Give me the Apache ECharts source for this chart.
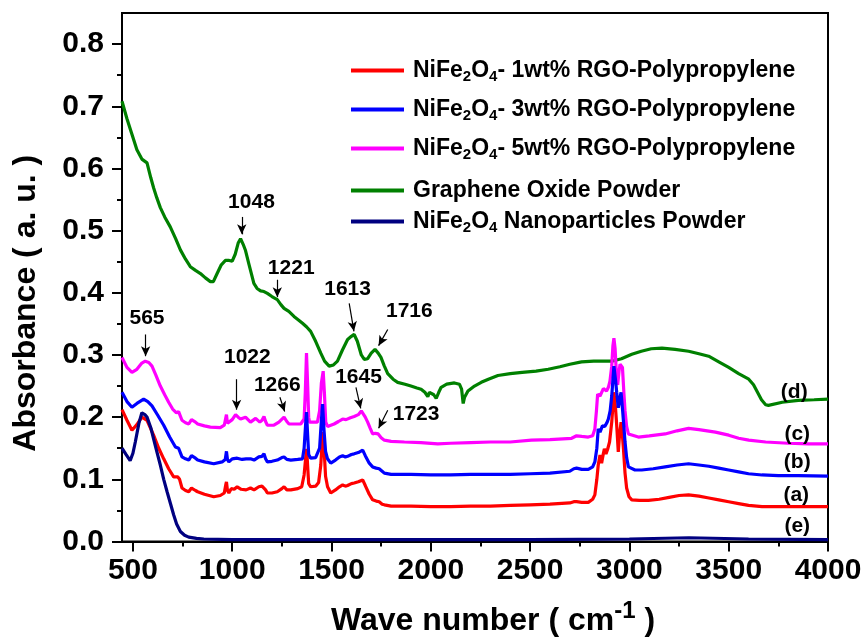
<!DOCTYPE html>
<html>
<head>
<meta charset="utf-8">
<script src="https://cdn.jsdelivr.net/npm/echarts@6/dist/echarts.min.js"></script>
<style>
  html, body { margin: 0; padding: 0; background: #fff; }
  #chart { width: 865px; height: 642px; }
</style>
</head>
<body>
<div id="chart"></div>
<script>
// FTIR spectra, values (wavenumber, absorbance)
const seriesNames = [
  "NiFe2O4- 1wt% RGO-Polypropylene",
  "NiFe2O4- 3wt% RGO-Polypropylene",
  "NiFe2O4- 5wt% RGO-Polypropylene",
  "Graphene Oxide Powder",
  "NiFe2O4 Nanoparticles Powder",
];
const seriesColors = ["#ff0000", "#0000ff", "#ff00ff", "#008000", "#000080"];

const rgo1 = [[445,0.212],[470,0.195],[495,0.179],[520,0.188],[545,0.200],[571,0.195],[604,0.171],[630,0.150],[655,0.133],[680,0.117],[705,0.104],[725,0.104],[735,0.100],[747,0.086],[765,0.082],[781,0.080],[795,0.086],[803,0.087],[815,0.082],[826,0.080],[860,0.076],[907,0.072],[940,0.074],[960,0.078],[968,0.092],[971,0.096],[976,0.082],[983,0.078],[995,0.085],[1010,0.084],[1025,0.088],[1045,0.084],[1070,0.083],[1092,0.086],[1110,0.083],[1134,0.088],[1150,0.089],[1160,0.092],[1168,0.083],[1177,0.078],[1200,0.078],[1227,0.080],[1250,0.085],[1261,0.088],[1275,0.083],[1295,0.083],[1330,0.085],[1350,0.088],[1362,0.107],[1370,0.135],[1375,0.149],[1380,0.120],[1385,0.093],[1395,0.088],[1420,0.089],[1435,0.095],[1446,0.123],[1453,0.160],[1458,0.176],[1464,0.140],[1470,0.105],[1480,0.088],[1496,0.078],[1520,0.083],[1540,0.088],[1556,0.091],[1570,0.089],[1581,0.090],[1600,0.093],[1614,0.094],[1635,0.096],[1657,0.099],[1670,0.090],[1690,0.076],[1707,0.067],[1725,0.065],[1740,0.064],[1755,0.060],[1766,0.059],[1800,0.057],[1900,0.057],[2000,0.056],[2100,0.056],[2200,0.057],[2300,0.057],[2400,0.058],[2500,0.059],[2600,0.060],[2700,0.062],[2720,0.064],[2734,0.064],[2760,0.063],[2793,0.063],[2815,0.068],[2826,0.075],[2836,0.100],[2843,0.123],[2852,0.139],[2860,0.126],[2868,0.140],[2874,0.149],[2882,0.141],[2890,0.148],[2900,0.160],[2911,0.192],[2922,0.240],[2930,0.215],[2936,0.187],[2944,0.144],[2950,0.170],[2958,0.192],[2965,0.170],[2970,0.149],[2978,0.110],[2986,0.086],[2998,0.072],[3012,0.067],[3050,0.066],[3096,0.066],[3150,0.068],[3200,0.071],[3250,0.074],[3298,0.075],[3350,0.073],[3400,0.070],[3450,0.067],[3500,0.064],[3550,0.061],[3600,0.058],[3668,0.056],[3750,0.056],[3850,0.056],[4000,0.056]];

const rgo3 = [[445,0.240],[470,0.225],[495,0.216],[520,0.222],[554,0.229],[575,0.225],[596,0.218],[625,0.203],[655,0.187],[685,0.168],[714,0.152],[730,0.150],[747,0.136],[765,0.133],[781,0.131],[795,0.138],[803,0.139],[815,0.134],[826,0.131],[860,0.128],[907,0.125],[949,0.128],[965,0.132],[971,0.145],[976,0.132],[983,0.128],[1000,0.133],[1025,0.134],[1050,0.132],[1070,0.133],[1092,0.133],[1110,0.131],[1134,0.136],[1150,0.137],[1160,0.141],[1168,0.133],[1177,0.128],[1200,0.129],[1227,0.131],[1250,0.135],[1261,0.136],[1275,0.132],[1295,0.131],[1330,0.132],[1354,0.133],[1362,0.150],[1370,0.190],[1374,0.208],[1380,0.170],[1385,0.140],[1395,0.134],[1420,0.135],[1429,0.136],[1440,0.150],[1448,0.190],[1455,0.221],[1462,0.180],[1470,0.145],[1480,0.133],[1496,0.126],[1520,0.131],[1540,0.136],[1556,0.138],[1570,0.136],[1581,0.137],[1600,0.140],[1614,0.141],[1635,0.143],[1657,0.147],[1670,0.138],[1690,0.126],[1707,0.120],[1725,0.118],[1740,0.117],[1755,0.113],[1766,0.110],[1800,0.108],[1900,0.108],[2000,0.107],[2100,0.107],[2200,0.108],[2300,0.108],[2400,0.108],[2500,0.109],[2600,0.110],[2700,0.113],[2720,0.117],[2734,0.118],[2760,0.116],[2793,0.116],[2815,0.120],[2826,0.128],[2836,0.150],[2843,0.181],[2852,0.176],[2857,0.176],[2864,0.186],[2869,0.189],[2876,0.185],[2880,0.187],[2888,0.192],[2894,0.197],[2903,0.210],[2911,0.234],[2922,0.282],[2930,0.260],[2936,0.240],[2944,0.215],[2952,0.230],[2958,0.240],[2966,0.210],[2972,0.185],[2978,0.160],[2986,0.135],[2995,0.120],[3028,0.115],[3062,0.115],[3120,0.117],[3180,0.120],[3240,0.123],[3298,0.125],[3350,0.123],[3400,0.121],[3450,0.118],[3500,0.115],[3550,0.112],[3600,0.109],[3668,0.107],[3750,0.106],[3850,0.106],[4000,0.105]];

const rgo5 = [[445,0.296],[470,0.280],[495,0.272],[520,0.277],[545,0.287],[562,0.290],[580,0.288],[596,0.282],[615,0.268],[638,0.250],[660,0.236],[680,0.224],[700,0.213],[719,0.207],[730,0.209],[747,0.195],[765,0.191],[781,0.189],[795,0.196],[803,0.197],[815,0.192],[826,0.189],[860,0.186],[890,0.184],[940,0.183],[960,0.187],[966,0.189],[971,0.204],[976,0.190],[983,0.188],[1000,0.196],[1017,0.204],[1030,0.200],[1042,0.197],[1067,0.200],[1092,0.192],[1118,0.198],[1139,0.192],[1150,0.195],[1160,0.201],[1168,0.193],[1177,0.187],[1210,0.187],[1235,0.192],[1261,0.200],[1275,0.193],[1286,0.189],[1345,0.189],[1362,0.197],[1368,0.240],[1374,0.303],[1380,0.250],[1385,0.200],[1389,0.192],[1429,0.192],[1440,0.210],[1449,0.255],[1458,0.274],[1464,0.240],[1471,0.192],[1480,0.185],[1488,0.184],[1513,0.189],[1535,0.193],[1556,0.197],[1573,0.196],[1595,0.199],[1614,0.201],[1635,0.204],[1650,0.210],[1657,0.210],[1670,0.200],[1682,0.192],[1695,0.182],[1707,0.173],[1720,0.174],[1735,0.173],[1750,0.167],[1766,0.163],[1800,0.161],[1867,0.160],[1950,0.159],[2035,0.157],[2100,0.158],[2200,0.159],[2300,0.160],[2400,0.160],[2507,0.163],[2600,0.164],[2709,0.166],[2734,0.170],[2760,0.169],[2793,0.168],[2815,0.170],[2826,0.181],[2834,0.210],[2840,0.237],[2846,0.240],[2852,0.234],[2860,0.234],[2869,0.246],[2877,0.245],[2885,0.242],[2894,0.248],[2902,0.258],[2911,0.282],[2917,0.315],[2922,0.327],[2928,0.310],[2936,0.260],[2941,0.252],[2948,0.275],[2953,0.285],[2958,0.288],[2965,0.280],[2972,0.240],[2978,0.210],[2986,0.185],[2995,0.173],[3003,0.170],[3045,0.168],[3100,0.170],[3180,0.173],[3240,0.178],[3298,0.182],[3350,0.180],[3433,0.176],[3500,0.171],[3550,0.166],[3601,0.163],[3686,0.160],[3800,0.158],[3900,0.157],[4000,0.157]];

const grapheneOxide = [[445,0.708],[470,0.680],[495,0.655],[520,0.630],[545,0.615],[571,0.609],[590,0.585],[604,0.569],[620,0.553],[638,0.537],[660,0.522],[688,0.506],[715,0.487],[739,0.469],[765,0.454],[789,0.442],[815,0.436],[840,0.431],[865,0.424],[890,0.418],[905,0.418],[924,0.431],[945,0.445],[966,0.452],[985,0.452],[1000,0.451],[1015,0.462],[1030,0.480],[1042,0.487],[1055,0.478],[1067,0.468],[1085,0.445],[1109,0.415],[1125,0.407],[1143,0.403],[1160,0.402],[1177,0.399],[1200,0.394],[1227,0.389],[1245,0.381],[1261,0.375],[1285,0.370],[1311,0.362],[1335,0.356],[1354,0.351],[1375,0.345],[1395,0.338],[1420,0.322],[1446,0.303],[1465,0.290],[1488,0.282],[1510,0.284],[1530,0.290],[1555,0.308],[1581,0.325],[1600,0.330],[1614,0.333],[1630,0.322],[1650,0.300],[1665,0.293],[1682,0.294],[1700,0.303],[1719,0.309],[1735,0.303],[1749,0.296],[1765,0.283],[1783,0.270],[1810,0.261],[1833,0.256],[1870,0.253],[1900,0.250],[1930,0.247],[1951,0.245],[1970,0.240],[1985,0.233],[1993,0.240],[2001,0.241],[2015,0.236],[2027,0.230],[2040,0.240],[2052,0.248],[2080,0.253],[2119,0.255],[2144,0.253],[2155,0.245],[2163,0.222],[2170,0.232],[2187,0.242],[2220,0.250],[2254,0.256],[2290,0.261],[2338,0.267],[2400,0.270],[2460,0.272],[2530,0.274],[2591,0.277],[2650,0.281],[2700,0.285],[2759,0.289],[2820,0.290],[2870,0.290],[2911,0.290],[2960,0.294],[3012,0.301],[3060,0.306],[3110,0.310],[3164,0.311],[3230,0.309],[3298,0.306],[3350,0.302],[3399,0.298],[3450,0.289],[3500,0.280],[3550,0.270],[3601,0.261],[3625,0.252],[3645,0.240],[3665,0.228],[3686,0.220],[3700,0.219],[3770,0.224],[3850,0.227],[3930,0.228],[4000,0.229]];

const nanoparticles = [[445,0.150],[465,0.140],[486,0.130],[500,0.142],[512,0.160],[530,0.190],[545,0.207],[560,0.204],[571,0.200],[590,0.183],[604,0.165],[620,0.145],[638,0.123],[655,0.100],[672,0.080],[690,0.060],[705,0.043],[720,0.028],[739,0.016],[760,0.010],[781,0.007],[820,0.005],[857,0.004],[1000,0.003],[1500,0.003],[2000,0.003],[2500,0.003],[3000,0.004],[3300,0.006],[3600,0.004],[4000,0.003]];

// peak annotations: [label x, label y, text], arrow [from, to]
const peakLabels = [[1097,0.545,"1048"],[1297,0.439,"1221"],[1581,0.405,"1613"],[1892,0.370,"1716"],[571,0.359,"565"],[1076,0.296,"1022"],[1227,0.252,"1266"],[1636,0.265,"1645"],[1926,0.205,"1723"]];
const peakArrows = [
  [[1048,0.522],[1048,0.494]], [[1227,0.421],[1227,0.393]], [[1589,0.383],[1613,0.338]],
  [[1783,0.341],[1737,0.315]], [[564,0.333],[564,0.298]], [[1022,0.261],[1022,0.212]],
  [[1240,0.232],[1264,0.209]], [[1623,0.248],[1647,0.214]], [[1783,0.211],[1737,0.182]],
];
const curveTags = [[3830,0.240,"(d)"],[3845,0.173,"(c)"],[3845,0.128,"(b)"],[3840,0.075,"(a)"],[3845,0.024,"(e)"]];

const xMajor = [500,1000,1500,2000,2500,3000,3500,4000];
const xMinor = [750,1250,1750,2250,2750,3250,3750];
const yMajor = [0,0.1,0.2,0.3,0.4,0.5,0.6,0.7,0.8];
const yMinor = [0.05,0.15,0.25,0.35,0.45,0.55,0.65,0.75];

const legendTops = [59, 98, 137, 179, 210];

const FONT = "Arial, 'Liberation Sans', sans-serif";
const BOLD = { fontFamily: FONT, fontWeight: "bold", color: "#000" };
const BLACK = { color: "#000", width: 2 };

function legendText(name) {
  if (name.indexOf("NiFe2O4") !== 0) return "{t|" + name + "}";
  return "{t|NiFe}{s|2}{t|O}{s|4}{t|" + name.slice(7) + "}";
}

const chart = echarts.init(document.getElementById("chart"), null, { renderer: "canvas" });

const spectra = [rgo1, rgo3, rgo5, grapheneOxide, nanoparticles];
const zOrder = [3, 5, 4, 2, 6];

const series = spectra.map((d, i) => ({
  name: seriesNames[i], type: "line", data: d, symbol: "none", z: zOrder[i],
  lineStyle: { width: 3.2, color: seriesColors[i] }, itemStyle: { color: seriesColors[i] },
  silent: true,
}));

// text marks plus their arrows; scatter defaults to 0.8 opacity, so force 1
series.push({
  name: "peaks", type: "scatter", symbolSize: 0, z: 8, silent: true,
  itemStyle: { opacity: 1, color: "#000" },
  data: peakLabels.concat(curveTags),
  label: {
    show: true, position: "inside", formatter: (p) => p.data[2],
    ...BOLD, fontSize: 21, textBorderWidth: 0, opacity: 1,
  },
  markLine: {
    silent: true, animation: false,
    symbol: ["none", "arrow"], symbolSize: [7, 10],
    label: { show: false },
    lineStyle: { color: "#000", width: 1.2, type: "solid", opacity: 1 },
    data: peakArrows.map(([a, b]) => [{ coord: a }, { coord: b }]),
  },
});

chart.setOption({
  animation: false,
  backgroundColor: "#fff",
  grid: { left: 122, right: 37, top: 13, bottom: 95, show: true, borderColor: "#000", borderWidth: 2 },
  legend: seriesNames.map((n, i) => ({
    data: [n], left: 351, top: legendTops[i], orient: "vertical",
    padding: 0, icon: "rect", itemWidth: 53, itemHeight: 4, selectedMode: false,
    formatter: legendText,
    textStyle: {
      ...BOLD, fontSize: 23, padding: [0, 0, 0, 4],
      rich: {
        t: { ...BOLD, fontSize: 23 },
        s: { ...BOLD, fontSize: 15, padding: [13, 0, 0, 0] },
      },
    },
  })),
  xAxis: [
    {
      type: "value", min: 445, max: 4000,
      axisLine: { lineStyle: BLACK },
      axisTick: { customValues: xMajor, length: 10, lineStyle: BLACK },
      axisLabel: { customValues: xMajor, ...BOLD, fontSize: 30, margin: 14, formatter: (v) => String(v) },
      splitLine: { show: false },
      name: "{t|Wave number ( cm}{u|-1}{t| )}",
      nameLocation: "middle", nameGap: 58,
      nameTextStyle: {
        ...BOLD, fontSize: 32, padding: [0, 0, 0, 36],
        rich: { t: { ...BOLD, fontSize: 32 }, u: { ...BOLD, fontSize: 24, padding: [0, 0, 19, 0] } },
      },
    },
    {
      type: "value", min: 445, max: 4000, position: "bottom",
      axisLine: { show: false },
      axisTick: { customValues: xMinor, length: 5, lineStyle: BLACK },
      axisLabel: { show: false }, splitLine: { show: false },
    },
  ],
  yAxis: [
    {
      type: "value", min: 0, max: 0.85,
      axisLine: { show: true, lineStyle: BLACK },
      axisTick: { show: true, customValues: yMajor, length: 10, lineStyle: BLACK },
      axisLabel: { customValues: yMajor, ...BOLD, fontSize: 30, margin: 18, formatter: (v) => v.toFixed(1) },
      splitLine: { show: false },
      name: "Absorbance ( a. u. )",
      nameLocation: "middle", nameGap: 80,
      nameTextStyle: { ...BOLD, fontSize: 32, padding: [0, 52, 0, 0] },
    },
    {
      type: "value", min: 0, max: 0.85, position: "left",
      axisLine: { show: false },
      axisTick: { show: true, customValues: yMinor, length: 5, lineStyle: BLACK },
      axisLabel: { show: false }, splitLine: { show: false },
    },
  ],
  series,
});
</script>
</body>
</html>
